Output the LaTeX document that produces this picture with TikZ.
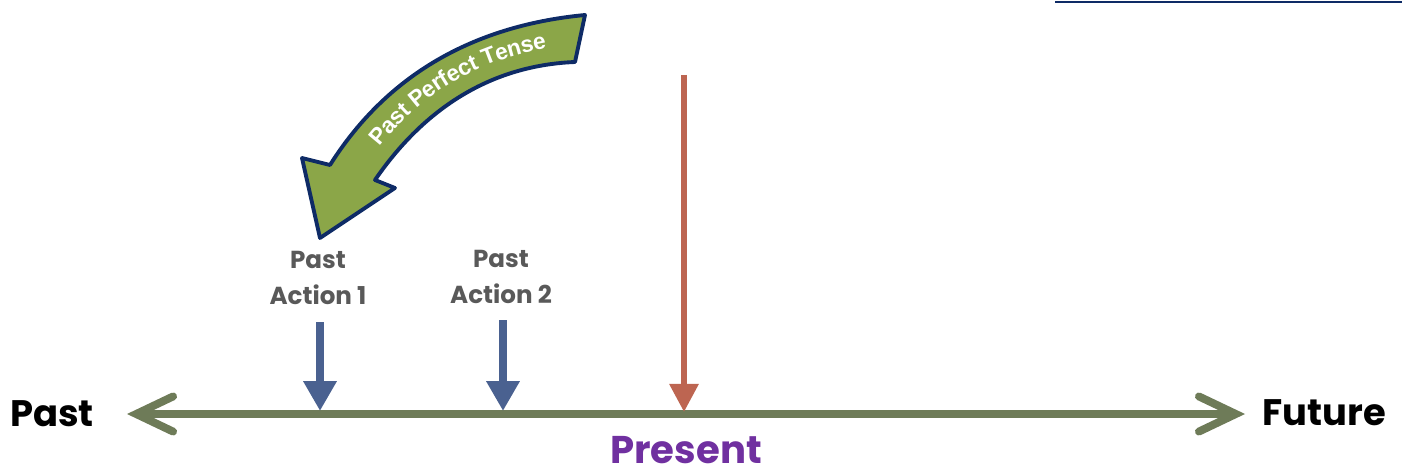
\documentclass[tikz,border=0pt]{standalone}
\usepackage{fontspec}
\usetikzlibrary{arrows.meta,decorations.text}
\newfontfamily\gothic{Poppins}
\newfontfamily\arialb{Liberation Sans}
\definecolor{olive}{RGB}{110,123,88}
\definecolor{actblue}{RGB}{74,97,144}
\definecolor{nowred}{RGB}{189,101,81}
\definecolor{nowpurple}{RGB}{112,48,160}
\definecolor{leaf}{RGB}{139,166,72}
\definecolor{navy}{RGB}{14,43,102}
\definecolor{labelgray}{RGB}{89,89,89}
\begin{document}
\begin{tikzpicture}[x=0.02cm,y=-0.02cm,
	timeline/.style={olive, line width=4.5pt, {Straight Barb[length=21pt,width=20pt,line cap=round]}-{Straight Barb[length=21pt,width=20pt,line cap=round]}},
	actarrow/.style={actblue, line width=4.5pt, -{Triangle[length=17pt,width=18pt]}},
	endword/.style={font=\gothic\bfseries\fontsize{21}{25}\selectfont, text=black},
	actlabel/.style={font=\gothic\bfseries\fontsize{14}{20.5}\selectfont, text=labelgray, align=center}]
	\useasboundingbox (0,0) rectangle (1402,473);
	% rule at the top right
	\draw[navy, line width=1.7pt] (1055,2) -- (1402,2);
	% time line
	\coordinate (pastEnd) at (127,414);
	\coordinate (futureEnd) at (1245,414);
	\draw[timeline] (pastEnd) -- (futureEnd);
	\node[endword] (past) at (52,414) {Past};
	\node[endword] (future) at (1324,413) {Future};
	\node[font=\gothic\bfseries\fontsize{22}{26}\selectfont, text=nowpurple, inner sep=1pt] (present) at (686,450) {Present};
	% now
	\coordinate (nowTop) at (684,75);
	\coordinate (now) at (684,412);
	\draw[nowred, line width=3.4pt, -{Triangle[length=16pt,width=16pt]}] (nowTop) -- (now);
	% the two past actions
	\node[actlabel] (act1) at (318,278) {Past\\Action 1};
	\node[actlabel] (act2) at (501,277) {Past\\Action 2};
	\coordinate (a1top) at (320,322);
	\coordinate (a1) at (320,411);
	\coordinate (a2top) at (503,320);
	\coordinate (a2) at (503,411);
	\draw[actarrow] (a1top) -- (a1);
	\draw[actarrow] (a2top) -- (a2);
	% curved arrow
	\filldraw[fill=leaf, draw=navy, line width=2.2pt, line join=round]
		(585,15) .. controls (480,25) and (390,70) .. (330,165)
		-- (302,158) -- (320,238) -- (395,188) -- (375,180)
		.. controls (430,100) and (500,65) .. (575,62) -- cycle;
	\path[postaction={decorate}, decoration={text along path, text align=center, raise=-4.7pt,
		text={|\arialb\bfseries\fontsize{13}{15}\selectfont\color{white}|Past Perfect Tense}}]
		(352,172) .. controls (410,80) and (490,42) .. (582,36);
\end{tikzpicture}
\end{document}
